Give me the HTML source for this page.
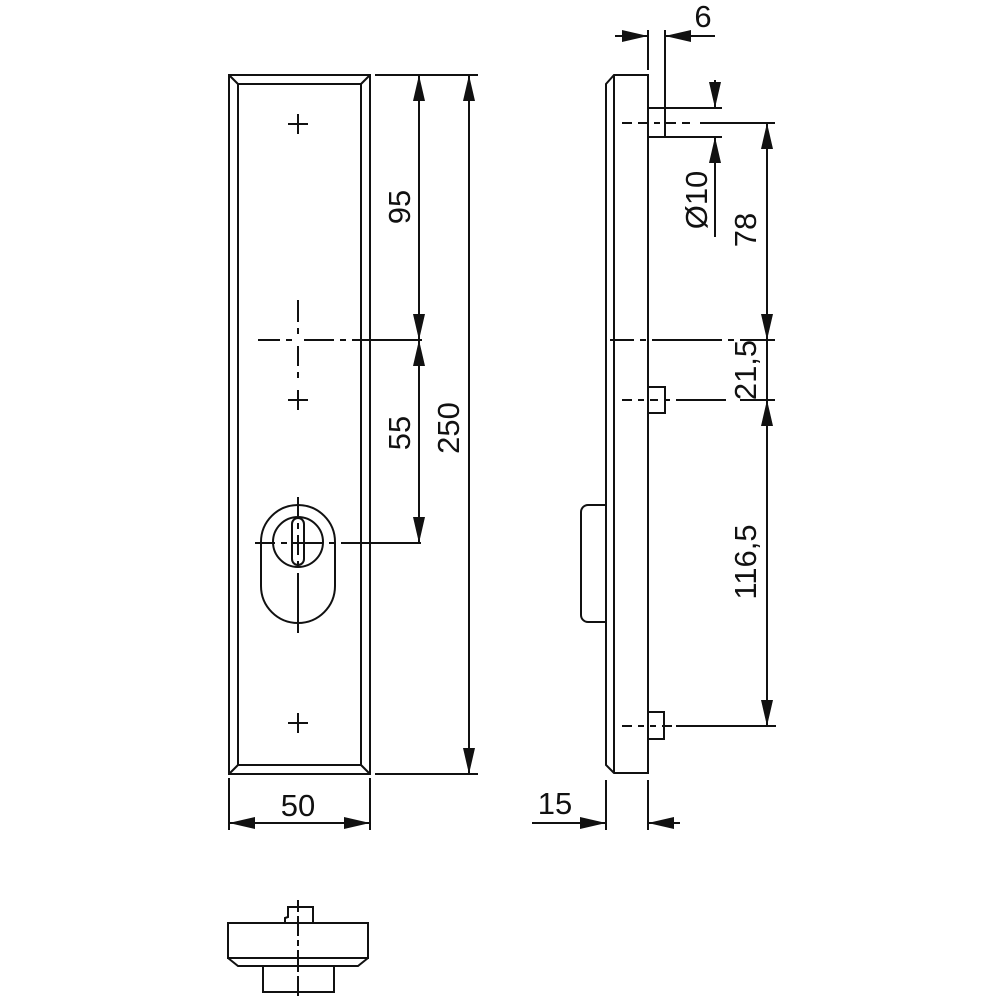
<!DOCTYPE html>
<html><head><meta charset="utf-8"><style>html,body{margin:0;padding:0;background:#fff}svg{display:block}text{font-family:"Liberation Sans",sans-serif;font-size:31px;fill:#111}</style></head>
<body>
<svg width="1000" height="1000" viewBox="0 0 1000 1000" xmlns="http://www.w3.org/2000/svg">
<defs>
<marker id="a" markerWidth="26" markerHeight="12" refX="26" refY="6" orient="auto" markerUnits="userSpaceOnUse"><path d="M0,0 L26,6 L0,12 Z" fill="#111"/></marker>
</defs>
<g stroke="#111" stroke-width="2" fill="none">
<rect x="229" y="75" width="141" height="699"/>
<rect x="238" y="84" width="123" height="681"/>
<line x1="229" y1="75" x2="238" y2="84"/><line x1="370" y1="75" x2="361" y2="84"/>
<line x1="229" y1="774" x2="238" y2="765"/><line x1="370" y1="774" x2="361" y2="765"/>
<path d="M288,124h20M298,114v20M288,400h20M298,390v20M288,723h20M298,713v20"/>
<path d="M258,340h22M286,340h6M304,340h30M340,340h6M352,340h70" />
<path d="M298,300v22M298,328v6M298,346v20M298,372v6"/>
<path d="M255,543h20M281,543h6M293,543h30M329,543h6M341,543h80"/>
<path d="M298,497v20M298,523v6M298,535v20M298,561v6M298,573v60"/>
<path d="M261,542 A37,37 0 0 1 335,542 V586 A37,37 0 0 1 261,586 Z"/>
<circle cx="298" cy="542" r="25"/>
<rect x="292" y="518" width="12" height="47" rx="6"/>
<line x1="375" y1="75" x2="478" y2="75"/>
<line x1="375" y1="774" x2="478" y2="774"/>
<line x1="419" y1="340" x2="419" y2="75" marker-end="url(#a)"/>
<line x1="419" y1="210" x2="419" y2="340" marker-end="url(#a)"/>
<line x1="419" y1="440" x2="419" y2="340" marker-end="url(#a)"/>
<line x1="419" y1="440" x2="419" y2="543" marker-end="url(#a)"/>
<line x1="469" y1="425" x2="469" y2="75" marker-end="url(#a)"/>
<line x1="469" y1="425" x2="469" y2="774" marker-end="url(#a)"/>
<line x1="229" y1="778" x2="229" y2="830"/><line x1="370" y1="778" x2="370" y2="830"/>
<line x1="300" y1="823" x2="229" y2="823" marker-end="url(#a)"/>
<line x1="300" y1="823" x2="370" y2="823" marker-end="url(#a)"/>
<path d="M614,75 H648 V773 H614 L606,765 V84 Z"/>
<line x1="614" y1="75" x2="614" y2="773"/>
<rect x="648" y="108" width="17" height="29"/>
<rect x="648" y="387" width="17" height="26"/>
<rect x="648" y="712" width="16" height="27"/>
<path d="M606,505 H588 A7,7 0 0 0 581,512 V615 A7,7 0 0 0 588,622 H606"/>
<path d="M622,123h10M638,123h10M654,123h6M666,123h10M682,123h8M700,123h75"/>
<path d="M610,340h24M640,340h6M652,340h70M728,340h6M740,340h35"/>
<path d="M622,400h10M638,400h6M650,400h8M664,400h6M676,400h50M740,400h35"/>
<path d="M622,726h10M638,726h6M650,726h6M662,726h10M676,726h100"/>
<line x1="648" y1="30" x2="648" y2="70"/><line x1="665" y1="30" x2="665" y2="108"/>
<line x1="615" y1="36" x2="648" y2="36" marker-end="url(#a)"/>
<line x1="715" y1="36" x2="665" y2="36" marker-end="url(#a)"/>
<line x1="665" y1="108" x2="722" y2="108"/><line x1="665" y1="137" x2="722" y2="137"/>
<line x1="715" y1="80" x2="715" y2="108" marker-end="url(#a)"/>
<line x1="715" y1="237" x2="715" y2="137" marker-end="url(#a)"/>
<line x1="767" y1="230" x2="767" y2="123" marker-end="url(#a)"/>
<line x1="767" y1="230" x2="767" y2="340" marker-end="url(#a)"/>
<line x1="767" y1="340" x2="767" y2="400"/>
<line x1="767" y1="560" x2="767" y2="400" marker-end="url(#a)"/>
<line x1="767" y1="560" x2="767" y2="726" marker-end="url(#a)"/>
<line x1="606" y1="780" x2="606" y2="830"/><line x1="648" y1="780" x2="648" y2="830"/>
<line x1="532" y1="823" x2="606" y2="823" marker-end="url(#a)"/>
<line x1="680" y1="823" x2="648" y2="823" marker-end="url(#a)"/>
<path d="M228,923 H368 V958 H228 Z"/>
<path d="M228,958 L238,966 H358 L368,958"/>
<path d="M263,966 V992 H334 V966"/>
<path d="M285,923 V918 L288,917 V907 H313 V923"/>
<path d="M298,900v12M298,916v20M298,940v6M298,950v22M298,976v20" stroke-width="2"/>
</g>
<text transform="translate(410,207) rotate(-90)" text-anchor="middle">95</text>
<text transform="translate(410,433) rotate(-90)" text-anchor="middle">55</text>
<text transform="translate(459,428) rotate(-90)" text-anchor="middle">250</text>
<text x="298" y="816" text-anchor="middle">50</text>
<text x="703" y="27" text-anchor="middle">6</text>
<text transform="translate(707,200) rotate(-90)" text-anchor="middle">Ø10</text>
<text transform="translate(756,230) rotate(-90)" text-anchor="middle">78</text>
<text transform="translate(756,370) rotate(-90)" text-anchor="middle">21,5</text>
<text transform="translate(756,562) rotate(-90)" text-anchor="middle">116,5</text>
<text x="555" y="814" text-anchor="middle">15</text>
</svg>
</body></html>
